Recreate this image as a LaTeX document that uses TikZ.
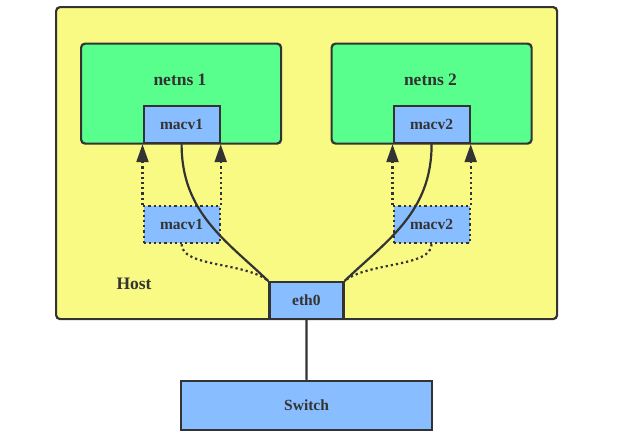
\documentclass[tikz,border=0pt]{standalone}
\usepackage{fontspec}
\setmainfont{Liberation Serif}
\usetikzlibrary{arrows.meta}
\definecolor{hostyellow}{RGB}{248,250,132}
\definecolor{nsgreen}{RGB}{88,255,140}
\definecolor{ifblue}{RGB}{136,190,255}
\definecolor{ink}{RGB}{51,51,51}
\tikzset{
  box/.style={draw=ink, line width=2.2pt, inner sep=0pt, anchor=north west},
  hostbox/.style={box, fill=hostyellow, rounded corners=4pt},
  nsbox/.style={box, fill=nsgreen, rounded corners=4pt},
  ifbox/.style={box, fill=ifblue, text=ink, font=\bfseries\fontsize{15.5}{15.5}\selectfont},
  dotbox/.style={ifbox, dash pattern=on 2.2pt off 3pt},
  lbl/.style={text=ink, font=\bfseries\fontsize{17.5}{17.5}\selectfont},
  wire/.style={draw=ink, line width=2.2pt},
  dotwire/.style={draw=ink, line width=2.2pt, dash pattern=on 2.2pt off 3pt},
  tip/.style={-{Triangle[length=18pt,width=12pt]}},
}
\begin{document}
\begin{tikzpicture}[x=1pt,y=-1pt]
\useasboundingbox (0,0) rectangle (624,437);
% host
\node[hostbox, minimum width=501pt, minimum height=312pt] (host) at (55,6) {};
\node[lbl] (hostlbl) at (134,284) {Host};
% namespaces
\node[nsbox, minimum width=200pt, minimum height=100pt] (ns1) at (80,42.5) {};
\node[nsbox, minimum width=200pt, minimum height=100pt] (ns2) at (330.5,42.5) {};
\node[lbl] (ns1lbl) at (180,80) {netns 1};
\node[lbl] (ns2lbl) at (430.5,80) {netns 2};
% macvlan in namespaces
\node[ifbox, minimum width=76pt, minimum height=37pt] (m1) at (142.5,105) {macv1};
\node[ifbox, minimum width=76pt, minimum height=37pt] (m2) at (392.5,105) {macv2};
% dotted macvlan in host
\node[dotbox, minimum width=76pt, minimum height=37pt] (d1) at (142.5,205) {macv1};
\node[dotbox, minimum width=76pt, minimum height=37pt] (d2) at (392.5,205) {macv2};
% eth0
\node[ifbox, minimum width=74pt, minimum height=37pt] (eth) at (268.3,281) {eth0};
% switch
\node[ifbox, minimum width=251pt, minimum height=49pt] (sw) at (180,380) {Switch};
% dotted arrows
\draw[dotwire, tip] (d1.north west) -- (m1.south west);
\draw[dotwire, tip] (d1.north east) -- (m1.south east);
\draw[dotwire, tip] (d2.north west) -- (m2.south west);
\draw[dotwire, tip] (d2.north east) -- (m2.south east);
% solid curves
\draw[wire] (m1.south) .. controls ([yshift=-68pt]m1.south) and ([xshift=-43pt,yshift=41pt]eth.north west) .. (eth.north west);
\draw[wire] (m2.south) .. controls ([yshift=-68pt]m2.south) and ([xshift=43pt,yshift=41pt]eth.north east) .. (eth.north east);
% dotted curves
\draw[dotwire] (d1.south) .. controls ([yshift=-23pt]d1.south) and ([xshift=-23pt,yshift=19pt]eth.north west) .. (eth.north west);
\draw[dotwire] (d2.south) .. controls ([yshift=-23pt]d2.south) and ([xshift=23pt,yshift=19pt]eth.north east) .. (eth.north east);
% uplink
\draw[wire] (eth.south) -- (sw.north);
\end{tikzpicture}
\end{document}
